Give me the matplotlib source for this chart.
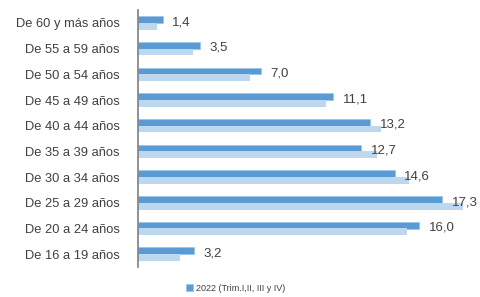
import matplotlib
matplotlib.use("Agg")
import matplotlib.pyplot as plt
import numpy as np

# datos (de abajo hacia arriba)
grupos = ['De 16 a 19 años', 'De 20 a 24 años', 'De 25 a 29 años', 'De 30 a 34 años',
          'De 35 a 39 años', 'De 40 a 44 años', 'De 45 a 49 años', 'De 50 a 54 años',
          'De 55 a 59 años', 'De 60 y más años']
valores_2022 = [3.2, 16.0, 17.3, 14.6, 12.7, 13.2, 11.1, 7.0, 3.5, 1.4]
valores_prev = [2.4, 15.3, 18.5, 15.4, 13.6, 13.8, 10.7, 6.4, 3.1, 1.1]
leyenda = '2022 (Trim.I,II, III y IV)'

plt.rcParams['font.family'] = ['Liberation Sans', 'DejaVu Sans']

fig = plt.figure(figsize=(4.81, 2.97), dpi=100)
ax = fig.add_axes([0.287, 0.101, 0.694, 0.865])

y = np.arange(len(grupos))
h = 0.265
b1 = ax.barh(y + 0.13, valores_2022, height=h, color='#5b9bd5', edgecolor='#9dc3e6', linewidth=0.5, label=leyenda)
ax.barh(y - 0.13, valores_prev, height=h, color='#bdd7ee', linewidth=0)

# etiquetas de valor
for yi, v in zip(y, valores_2022):
    ax.text(v + 0.55, yi + 0.03, f'{v:.1f}'.replace('.', ','), va='center', ha='left',
            fontsize=9.5, color='#404040')

ax.set_xlim(0, 19)
ax.set_ylim(-0.5, len(grupos) - 0.5)
ax.set_yticks(y)
ax.set_yticklabels(grupos, fontsize=9.3, color='#404040')
ax.tick_params(axis='y', length=0, pad=13)
ax.set_xticks([])
for s in ['top', 'right', 'bottom']:
    ax.spines[s].set_visible(False)
ax.spines['left'].set_color('#7f7f7f')
ax.spines['left'].set_linewidth(1.2)

fig.legend(handles=[b1], loc='center', bbox_to_anchor=(0.49, 0.03), frameon=False,
           fontsize=6.5, handlelength=0.8, handleheight=0.8, handletextpad=0.3,
           labelcolor='#404040')

fig.savefig('out.png', dpi=100)
